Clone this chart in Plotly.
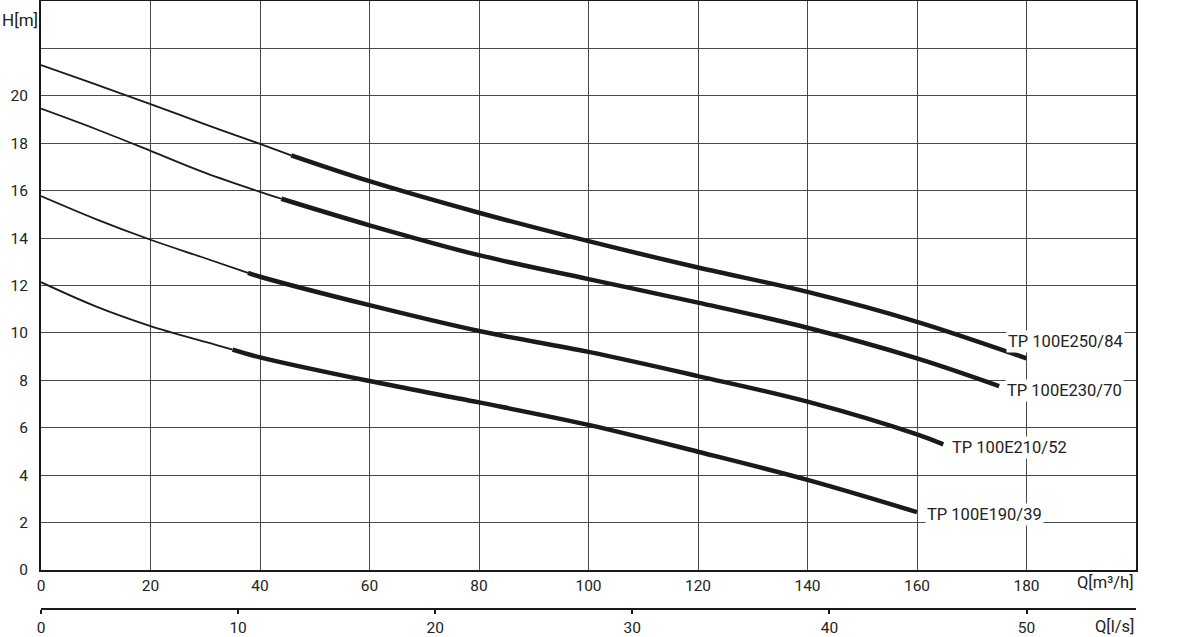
import plotly.graph_objects as go

# ---- data ----
Q_250 = [0, 10, 20, 30, 40, 45.7, 60, 80, 100, 120, 140, 160, 180]
H_250 = [21.3, 20.48, 19.65, 18.8, 17.97, 17.49, 16.4, 15.07, 13.87, 12.76, 11.73, 10.47, 8.93]

Q_230 = [0, 10, 20, 30, 40, 43.9, 60, 80, 100, 120, 140, 160, 175]
H_230 = [19.46, 18.6, 17.68, 16.75, 15.95, 15.66, 14.54, 13.28, 12.27, 11.28, 10.22, 8.93, 7.76]

Q_210 = [0, 10, 20, 30, 37.8, 40, 60, 80, 100, 120, 140, 160, 164.8]
H_210 = [15.77, 14.8, 13.93, 13.15, 12.53, 12.37, 11.17, 10.08, 9.2, 8.18, 7.1, 5.72, 5.3]

Q_190 = [0, 10, 20, 30, 35, 40, 60, 80, 100, 120, 140, 160]
H_190 = [12.14, 11.12, 10.29, 9.62, 9.3, 8.97, 7.97, 7.07, 6.12, 4.99, 3.8, 2.44]

NAMES = ["TP 100E250/84", "TP 100E230/70", "TP 100E210/52", "TP 100E190/39"]
THICK_FROM = [45.7, 43.9, 37.8, 35]          # Q where the operating (thick) range starts

Q_TICKS = [0, 20, 40, 60, 80, 100, 120, 140, 160, 180]
H_TICKS = [0, 2, 4, 6, 8, 10, 12, 14, 16, 18, 20, 22]
H_TICKTEXT = ["0", "2", "4", "6", "8", "10", "12", "14", "16", "18", "20", ""]
LS_TICKS = [0, 10, 20, 30, 40, 50]
M3H_PER_LS = 3.6

# ---- styling ----
INK = "#1a1a1a"
GRID = "#4a4a4a"
FONT = "Roboto"
LABEL_SHIFT = [(-21, 17), (6, -4), (7, -3), (8, -2)]

curves = [(Q_250, H_250), (Q_230, H_230), (Q_210, H_210), (Q_190, H_190)]

fig = go.Figure()
for (q, h), start in zip(curves, THICK_FROM):
    qt = [a for a in q if a <= start]
    ht = [b for a, b in zip(q, h) if a <= start]
    qk = [a for a in q if a >= start]
    hk = [b for a, b in zip(q, h) if a >= start]
    fig.add_trace(go.Scatter(x=qt, y=ht, mode="lines", line=dict(color=INK, width=1.8, shape="spline", smoothing=1.0),
                             hoverinfo="skip", showlegend=False))
    fig.add_trace(go.Scatter(x=qk, y=hk, mode="lines", line=dict(color=INK, width=4.5, shape="spline", smoothing=1.0),
                             hoverinfo="skip", showlegend=False))

# dummy trace for the l/s axis
fig.add_trace(go.Scatter(x=[0, 200 / M3H_PER_LS], y=[None, None], xaxis="x2", mode="lines",
                         showlegend=False, hoverinfo="skip"))

annotations = []
for (q, h), name, (dx, dy) in zip(curves, NAMES, LABEL_SHIFT):
    annotations.append(dict(x=q[-1], y=h[-1], xref="x", yref="y", text=name, showarrow=False,
                            xanchor="left", yanchor="middle", xshift=dx, yshift=dy,
                            font=dict(family=FONT, size=16.5, color="#222"),
                            bgcolor="white", borderpad=1))

annotations += [
    dict(x=-0.0374, y=0.969, xref="paper", yref="paper", text="H[m]", showarrow=False,
         xanchor="left", yanchor="middle", font=dict(family=FONT, size=17, color="#222")),
    dict(x=1.0, y=0.0475, xref="paper", yref="paper", text="Q[m³/h]", showarrow=False,
         xanchor="right", yanchor="middle", font=dict(family=FONT, size=16.5, color="#222")),
    dict(x=1.0, y=-0.0245, xref="paper", yref="paper", text="Q[l/s]", showarrow=False,
         xanchor="right", yanchor="middle", font=dict(family=FONT, size=16.5, color="#222")),
]

fig.update_layout(
    width=1200, height=637,
    margin=dict(l=41, r=64, t=1, b=25),
    paper_bgcolor="white", plot_bgcolor="white",
    showlegend=False,
    annotations=annotations,
    xaxis=dict(range=[0, 200], tickvals=Q_TICKS, showgrid=True, gridcolor=GRID, gridwidth=1,
               zeroline=False, showline=True, linecolor=INK, linewidth=2, mirror=True,
               ticks="", tickfont=dict(family=FONT, size=15.5, color="#222"),
               anchor="y", automargin=False, fixedrange=True),
    yaxis=dict(range=[0, 24], domain=[0.0687, 1], tickvals=H_TICKS, ticktext=H_TICKTEXT,
               showgrid=True, gridcolor=GRID, gridwidth=1, zeroline=False,
               showline=True, linecolor=INK, linewidth=2, mirror=True, ticks="",
               ticklabelstandoff=8, tickfont=dict(family=FONT, size=15.5, color="#222"),
               automargin=False, fixedrange=True),
    xaxis2=dict(range=[0, 200 / M3H_PER_LS], overlaying="x", anchor="free", position=0.0049,
                side="bottom", tickvals=LS_TICKS, showgrid=False, zeroline=False,
                showline=True, linecolor=INK, linewidth=2, ticks="outside", ticklen=4,
                tickwidth=2, tickcolor=INK, tickfont=dict(family=FONT, size=15.5, color="#222"),
                automargin=False, fixedrange=True),
)

fig.write_html("out.html", config={"displayModeBar": False},
               post_script="document.body.style.margin='0';document.body.style.overflow='hidden';")
